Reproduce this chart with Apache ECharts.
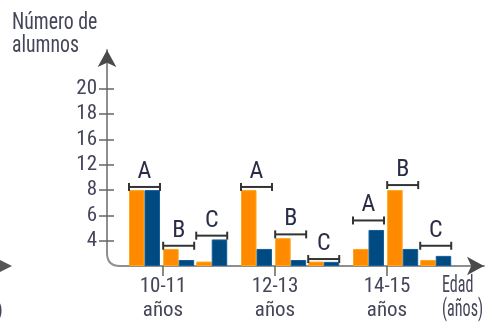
<!DOCTYPE html>
<html>
<head>
<meta charset="utf-8">
<script src="https://cdn.jsdelivr.net/npm/echarts@6/dist/echarts.min.js"></script>
<style>
html, body { margin: 0; padding: 0; background: #fff; }
#chart { width: 485px; height: 327px; }
</style>
</head>
<body>
<div id="chart"></div>
<script>
const ageGroups = ['10-11\naños', '12-13\naños', '14-15\naños'];
const rangeLetters = ['A', 'B', 'C'];
const yTickLabels = [0, 4, 6, 8, 12, 16, 18, 20];
// one row per age group, columns are the ranges A, B, C
const orangeValues = [[8, 2.7, 0.7], [8, 4.2, 0.7], [2.7, 8, 0.95]];
const blueValues = [[8, 0.95, 4.1], [2.7, 0.95, 0.65], [4.85, 2.7, 1.6]];
const bracketValues = [[8.5, 3.2, 4.4], [8.5, 4.5, 1.1], [5.6, 8.8, 3.2]];

const font = '"Roboto Condensed", "DejaVu Sans Condensed", sans-serif';
const textColor = '#45465a';
const axisColor = '#8f8f8f';
const arrowColor = '#4a4a4a';
const subOffset = [-0.165, 0.14, 0.435];
const barW = 15.5;

// the printed scale is uneven: every tick is one step whatever its label says
function toStep(v) {
  for (let i = 1; i < yTickLabels.length; i++) {
    if (v <= yTickLabels[i]) {
      const a = yTickLabels[i - 1], b = yTickLabels[i];
      return i - 1 + (v - a) / (b - a);
    }
  }
  return yTickLabels.length - 1;
}

function toPoints(values) {
  const out = [];
  values.forEach((row, gi) => row.forEach((v, si) => out.push([gi + subOffset[si], toStep(v), si])));
  return out;
}

const chart = echarts.init(document.getElementById('chart'));
const stepTicks = [1, 2, 3, 4, 5, 6, 7];
const xRange = { min: -0.5, max: 2.866 };
const yRange = { min: 0, max: 8.54 };
// invisible line, only the dark arrow head is drawn
const arrowOnly = { show: true, onZero: false, symbol: ['none', 'arrow'], symbolSize: [14, 17], lineStyle: { color: arrowColor, width: 0 } };

const option = {
  animation: false,
  grid: { left: 107, right: 1, top: 50, bottom: 61 },
  xAxis: [{
    type: 'value',
    ...xRange,
    axisLine: { show: true, onZero: false, lineStyle: { color: axisColor, width: 2 } },
    axisTick: { show: true, customValues: [0, 1, 2], length: 10, lineStyle: { color: '#666', width: 1.5 } },
    axisLabel: {
      customValues: [0, 1, 2],
      formatter: v => ageGroups[Math.round(v)],
      fontSize: 21, lineHeight: 24, fontFamily: font, color: textColor, margin: 9
    },
    splitLine: { show: false }
  }, {
    type: 'value',
    position: 'bottom',
    ...xRange,
    axisLine: arrowOnly,
    axisTick: { show: false },
    axisLabel: { show: false },
    splitLine: { show: false }
  }],
  yAxis: [{
    type: 'value',
    position: 'left',
    ...yRange,
    axisLine: { show: true, onZero: false, lineStyle: { color: axisColor, width: 2 } },
    axisTick: { show: true, customValues: stepTicks, length: 8, lineStyle: { color: '#666', width: 1.5 } },
    axisLabel: {
      customValues: stepTicks,
      formatter: v => String(yTickLabels[Math.round(v)]),
      fontSize: 21, fontFamily: font, color: textColor, margin: 10
    },
    splitLine: { show: false }
  }, {
    // inner half of the crossing ticks, plus the arrow head
    type: 'value',
    position: 'left',
    ...yRange,
    axisLine: arrowOnly,
    axisTick: { show: true, inside: true, customValues: stepTicks, length: 7, lineStyle: { color: '#666', width: 1.5 } },
    axisLabel: { show: false },
    splitLine: { show: false }
  }],
  series: [{
    name: 'naranja',
    type: 'bar',
    barWidth: barW,
    barGap: '0%',
    itemStyle: { color: '#ff8a00', borderColor: '#ffa51c', borderWidth: 1 },
    data: toPoints(orangeValues)
  }, {
    name: 'azul',
    type: 'bar',
    barWidth: barW,
    barGap: '0%',
    itemStyle: { color: '#004a82', borderColor: '#145f9c', borderWidth: 1 },
    data: toPoints(blueValues)
  }, {
    name: 'rangos',
    type: 'custom',
    z: 5,
    data: toPoints(bracketValues),
    renderItem: function (params, api) {
      const p = api.coord([api.value(0), api.value(1)]);
      const x0 = p[0] - barW, x1 = p[0] + barW, y = p[1];
      const line = { stroke: '#333', lineWidth: 2 };
      return {
        type: 'group',
        children: [
          { type: 'line', shape: { x1: x0, y1: y, x2: x1, y2: y }, style: line },
          { type: 'line', shape: { x1: x0, y1: y - 4, x2: x0, y2: y + 4 }, style: line },
          { type: 'line', shape: { x1: x1, y1: y - 4, x2: x1, y2: y + 4 }, style: line },
          {
            type: 'text',
            style: {
              text: rangeLetters[api.value(2)], x: p[0], y: y - 3,
              align: 'center', verticalAlign: 'bottom',
              fontSize: 24, fontFamily: font, fill: '#2b2d48'
            }
          }
        ]
      };
    }
  }],
  graphic: [{
    id: 'title', type: 'text', x: 12, y: 12, scaleX: 0.86,
    style: { text: 'Número de\nalumnos', fontSize: 23, lineHeight: 23, fontFamily: font, fill: textColor }
  }, {
    id: 'xname', type: 'text', x: 442, y: 274, scaleX: 0.7,
    style: { text: 'Edad\n(años)', fontSize: 23, lineHeight: 24, fontFamily: font, fill: textColor }
  }, {
    // edge of the neighbouring figure, cut off at the left
    id: 'leftArrow', type: 'polygon', shape: { points: [[0, 260], [12, 266], [0, 272]] }, style: { fill: '#555' }
  }, {
    id: 'leftParen', type: 'text', x: -4, y: 300,
    style: { text: ')', fontSize: 22, fontFamily: font, fill: textColor }
  }]
};

chart.setOption(option);

// round the corner where the two axes meet
const c = chart.convertToPixel({ gridIndex: 0 }, [-0.5, 0]);
chart.setOption({
  graphic: [{
    id: 'cornerCover', type: 'rect', z: 10,
    shape: { x: c[0] - 3, y: c[1] - 13, width: 15, height: 16 },
    style: { fill: '#fff' }
  }, {
    id: 'cornerCurve', type: 'bezierCurve', z: 11,
    shape: { x1: c[0], y1: c[1] - 13, x2: c[0] + 13, y2: c[1], cpx1: c[0], cpy1: c[1] },
    style: { stroke: axisColor, lineWidth: 2, fill: 'none' }
  }]
});
</script>
</body>
</html>
